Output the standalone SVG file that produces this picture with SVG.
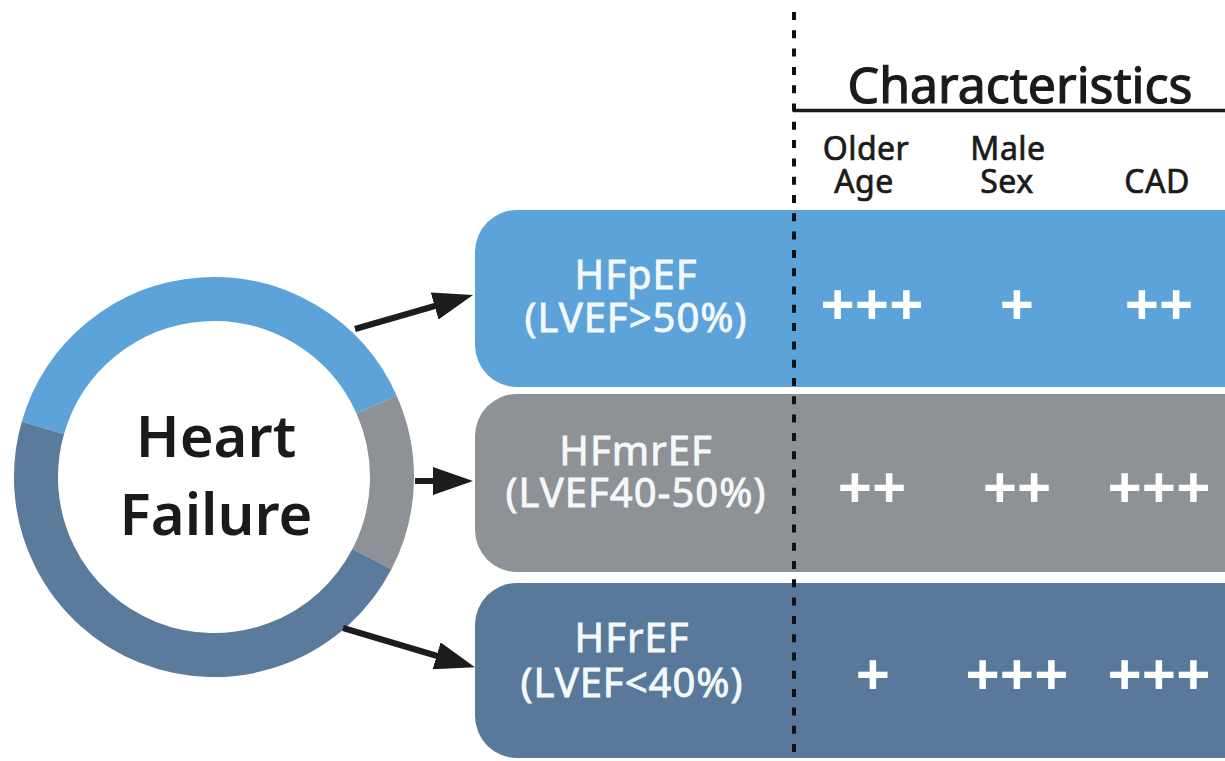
<svg xmlns="http://www.w3.org/2000/svg" width="1225" height="761" viewBox="0 0 1225 761">
  <style>
    .ring { fill: none; stroke-width: 44; }
    .hf { font-family: "Noto Sans", "Open Sans", sans-serif; font-size: 58px; font-weight: 600; fill: #1a1a1a; text-anchor: middle; }
    .lbl { font-family: "Noto Sans", "Open Sans", sans-serif; font-size: 40px; font-weight: 400; fill: #f4f8fb; stroke: #f4f8fb; stroke-width: 0.8px; text-anchor: middle; letter-spacing: 1px; }
    .plus { font-family: "Noto Sans", "DejaVu Sans", sans-serif; font-size: 60px; font-weight: 700; fill: #ffffff; text-anchor: middle; }
    .hdr { font-family: "Noto Sans", "Open Sans", sans-serif; font-size: 32px; font-weight: 400; fill: #1a1a1a; stroke: #1a1a1a; stroke-width: 0.7px; text-anchor: middle; letter-spacing: 0.5px; }
    .title { font-family: "Noto Sans", "Open Sans", sans-serif; font-size: 50px; font-weight: 400; fill: #1a1a1a; stroke: #1a1a1a; stroke-width: 1.2px; text-anchor: middle; }
    .conn { stroke: #1c1c1c; stroke-width: 6; fill: none; marker-end: url(#head); }
  </style>
  <defs>
    <marker id="head" viewBox="0 0 40 28" refX="20" refY="14" markerWidth="40" markerHeight="28" markerUnits="userSpaceOnUse" orient="auto">
      <path d="M0,0 L40,14 L0,28 Z" fill="#1c1c1c"/>
    </marker>
  </defs>
  <rect x="0" y="0" width="1225" height="761" fill="#ffffff"/>

  <g id="heart-failure">
    <path class="ring" stroke="#5ca3da" d="M42.9,427.9 A178,178 0 0 1 376.6,404.6"/>
    <path class="ring" stroke="#8e9296" d="M376.6,404.6 A178,178 0 0 1 371.9,559.2"/>
    <path class="ring" stroke="#5a7b9b" d="M371.9,559.2 A178,178 0 0 1 42.9,427.9"/>
    <text class="hf" x="216" y="457">Heart</text>
    <text class="hf" x="216" y="535">Failure</text>
  </g>

  <g id="hfpef">
    <rect x="475" y="210" width="800" height="177" rx="42" fill="#5ba3d9"/>
    <text class="lbl" x="636" y="289">HFpEF</text>
    <text class="lbl" x="636" y="332">(LVEF&gt;50%)</text>
    <text class="plus" x="872" y="326">+++</text>
    <text class="plus" x="1017" y="326">+</text>
    <text class="plus" x="1159" y="326">++</text>
  </g>

  <g id="hfmref">
    <rect x="475" y="394" width="800" height="178" rx="42" fill="#8e9195"/>
    <text class="lbl" x="636" y="465">HFmrEF</text>
    <text class="lbl" x="636" y="507">(LVEF40-50%)</text>
    <text class="plus" x="872" y="509">++</text>
    <text class="plus" x="1017" y="509">++</text>
    <text class="plus" x="1159" y="509">+++</text>
  </g>

  <g id="hfref">
    <rect x="475" y="583" width="800" height="175" rx="42" fill="#58799a"/>
    <text class="lbl" x="632" y="652">HFrEF</text>
    <text class="lbl" x="632" y="697">(LVEF&lt;40%)</text>
    <text class="plus" x="873" y="696">+</text>
    <text class="plus" x="1017" y="696">+++</text>
    <text class="plus" x="1159" y="696">+++</text>
  </g>

  <g id="characteristics">
    <text class="title" x="1020" y="103">Characteristics</text>
    <line x1="793" y1="110.5" x2="1225" y2="110.5" stroke="#1a1a1a" stroke-width="3.5"/>
    <text class="hdr" x="866" y="160">Older</text>
    <text class="hdr" x="864" y="193">Age</text>
    <text class="hdr" x="1008" y="160">Male</text>
    <text class="hdr" x="1007" y="193">Sex</text>
    <text class="hdr" x="1157" y="193">CAD</text>
  </g>

  <g id="divider">
    <line x1="794" y1="12" x2="794" y2="761" stroke="#111111" stroke-width="4" stroke-dasharray="8 10.3"/>
  </g>

  <g id="connectors">
    <line class="conn" x1="355" y1="329" x2="453.8" y2="300.5"/>
    <line class="conn" x1="415" y1="481" x2="453" y2="481"/>
    <line class="conn" x1="343" y1="628" x2="455.8" y2="661.5"/>
  </g>
</svg>
